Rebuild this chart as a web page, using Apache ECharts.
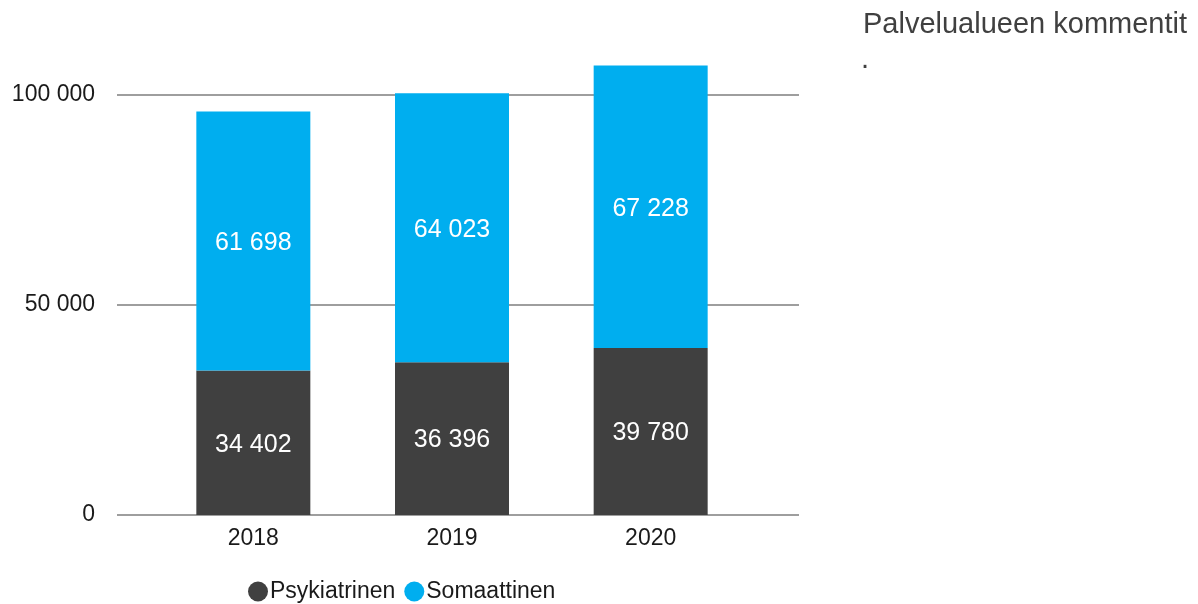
<!DOCTYPE html>
<html>
<head>
<meta charset="utf-8">
<script src="https://cdn.jsdelivr.net/npm/echarts@6/dist/echarts.min.js"></script>
<style>html,body{margin:0;padding:0;background:#fff}#c{width:1198px;height:604px}</style>
</head>
<body>
<div id="c"></div>
<script>
const categories = ['2018', '2019', '2020'];
const psykiatrinen = [34402, 36396, 39780];
const somaattinen = [61698, 64023, 67228];
const seriesNames = ['Psykiatrinen', 'Somaattinen'];
const yTicks = [0, 50000, 100000];

const FONT = '"Liberation Sans", Arial, sans-serif';
const fmt = v => String(v).replace(/\B(?=(\d{3})+(?!\d))/g, ' ');

const chart = echarts.init(document.getElementById('c'));
chart.setOption({
  animation: false,
  textStyle: { fontFamily: FONT },
  title: [
    { text: 'Palvelualueen kommentit', left: 858, top: 5,
      textStyle: { fontFamily: FONT, fontSize: 29, fontWeight: 'normal', color: '#404040' } },
    { text: '.', left: 856, top: 40,
      textStyle: { fontFamily: FONT, fontSize: 29, fontWeight: 'normal', color: '#404040' } }
  ],
  legend: {
    data: seriesNames,
    left: 243, top: 575,
    icon: 'circle', itemWidth: 20, itemHeight: 20, itemGap: 9,
    textStyle: { fontFamily: FONT, fontSize: 23, color: '#1a1a1a', padding: [0, 0, 0, -3] }
  },
  grid: [
    { left: 117, right: 399, top: 95, bottom: 89 },
    { left: 154, width: 596, top: 95, bottom: 89 }
  ],
  xAxis: [
    { gridIndex: 0, type: 'value', show: false },
    { gridIndex: 1, type: 'category', data: categories,
      axisLine: { show: false }, axisTick: { show: false },
      axisLabel: { margin: 12, fontFamily: FONT, fontSize: 23, color: '#1a1a1a' } }
  ],
  yAxis: [
    { gridIndex: 0, type: 'value', min: yTicks[0], max: yTicks[yTicks.length - 1], interval: yTicks[1] - yTicks[0],
      axisLine: { show: false }, axisTick: { show: false },
      axisLabel: { margin: 22, fontFamily: FONT, fontSize: 23, color: '#1a1a1a', formatter: v => fmt(v) },
      splitLine: { show: true, lineStyle: { color: '#9e9e9e', width: 2 } } },
    { gridIndex: 1, type: 'value', min: yTicks[0], max: yTicks[yTicks.length - 1], interval: yTicks[1] - yTicks[0],
      show: false, splitLine: { show: false } }
  ],
  series: [
    { name: seriesNames[0], type: 'bar', stack: 't', xAxisIndex: 1, yAxisIndex: 1, clip: false,
      data: psykiatrinen, barWidth: 114, itemStyle: { color: '#404040' },
      label: { show: true, position: 'inside', offset: [0, 2], color: '#fff', fontFamily: FONT, fontSize: 25, formatter: p => fmt(p.value) } },
    { name: seriesNames[1], type: 'bar', stack: 't', xAxisIndex: 1, yAxisIndex: 1, clip: false,
      data: somaattinen, barWidth: 114, itemStyle: { color: '#00AEEF' },
      label: { show: true, position: 'inside', offset: [0, 2], color: '#fff', fontFamily: FONT, fontSize: 25, formatter: p => fmt(p.value) } }
  ]
});
</script>
</body>
</html>
